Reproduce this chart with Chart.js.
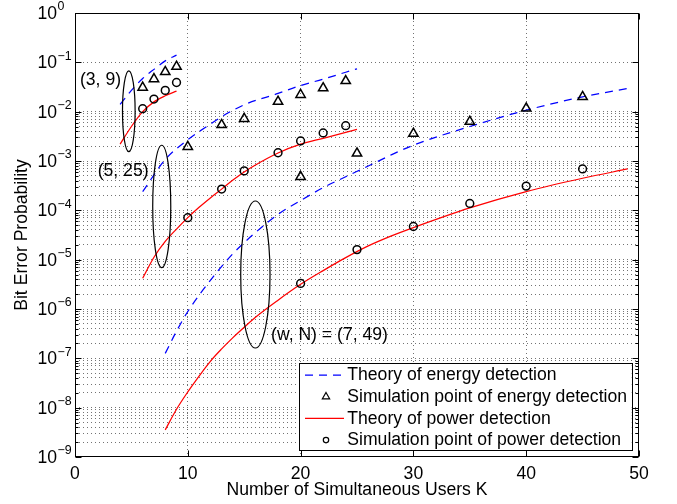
<!DOCTYPE html>
<html><head><meta charset="utf-8">
<script src="https://cdn.jsdelivr.net/npm/chart.js@4.4.0/dist/chart.umd.min.js"></script>
<style>html,body{margin:0;padding:0;background:#fff;}#wrap{width:677px;height:504px;}</style>
</head><body><div id="wrap"><canvas id="c" width="677" height="504"></canvas></div>
<script>
// ---------- axis ticks ----------
const xTicks = [0, 10, 20, 30, 40, 50];
const yDecadeExponents = [0, -1, -2, -3, -4, -5, -6, -7, -8, -9];
const minorGridDecades = [-9, -8, -7, -6, -5, -4, -3];   // minor lines m*10^d, m = 2..9
const minorMultipliers = [2, 3, 4, 5, 6, 7, 8, 9];

// ---------- (w, N) = (3, 9) ----------
const kTheory39 = [4, 5, 6, 7, 8, 9];
const energyTheory39 = [1.4e-2, 2.7e-2, 4.7e-2, 7.2e-2, 1.07e-1, 1.4e-1];
const powerTheory39 = [2.2e-3, 5.0e-3, 1.0e-2, 1.58e-2, 2.1e-2, 2.6e-2];
const kSim39 = [6, 7, 8, 9];
const energySim39 = [3.1e-2, 4.6e-2, 6.4e-2, 8.2e-2];
const powerSim39 = [1.15e-2, 1.8e-2, 2.7e-2, 3.9e-2];

// ---------- (w, N) = (5, 25) ----------
const kEnergyTheory525 = [6, 8, 10, 12, 13, 15, 18, 20, 22, 24, 25];
const energyTheory525 = [2.4e-4, 1.07e-3, 2.7e-3, 5.6e-3, 7.9e-3, 1.38e-2, 2.34e-2, 3.39e-2, 4.57e-2, 6.3e-2, 7.4e-2];
const kPowerTheory525 = [6, 7, 8, 9, 10, 11, 12, 13, 14, 15, 16, 18, 20, 22, 24, 25];
const powerTheory525 = [4.2e-6, 1.12e-5, 2.34e-5, 4.17e-5, 7.1e-5, 1.15e-4, 1.78e-4, 2.69e-4, 4.1e-4, 6.0e-4, 8.3e-4, 1.45e-3, 2.19e-3, 2.88e-3, 3.8e-3, 4.37e-3];
const kSim525 = [10, 13, 15, 18, 20, 22, 24];
const energySim525 = [1.95e-3, 5.4e-3, 7.2e-3, 1.6e-2, 2.2e-2, 3.0e-2, 4.2e-2];
const powerSim525 = [7.1e-5, 2.7e-4, 6.3e-4, 1.47e-3, 2.55e-3, 3.7e-3, 5.2e-3];

// ---------- (w, N) = (7, 49) ----------
const kEnergyTheory749 = [8, 9, 10, 12, 14, 16, 18, 20, 22, 24, 26, 28, 30, 35, 40, 45, 49];
const energyTheory749 = [1.26e-7, 3.55e-7, 8.9e-7, 3.8e-6, 1.32e-5, 3.55e-5, 8.3e-5, 1.58e-4, 2.88e-4, 4.8e-4, 7.9e-4, 1.32e-3, 2.09e-3, 5.0e-3, 1.07e-2, 2.0e-2, 2.95e-2];
const kPowerTheory749 = [8, 9, 10, 11, 12, 13, 14, 15, 16, 18, 20, 22, 24, 26, 28, 30, 35, 40, 45, 49];
const powerTheory749 = [3.55e-9, 9.3e-9, 2.09e-8, 4.37e-8, 8.7e-8, 1.55e-7, 2.63e-7, 4.27e-7, 6.8e-7, 1.51e-6, 3.16e-6, 6.0e-6, 1.1e-5, 1.9e-5, 3.0e-5, 4.47e-5, 1.12e-4, 2.4e-4, 4.47e-4, 6.9e-4];
const kSim749 = [20, 25, 30, 35, 40, 45];
const energySim749 = [4.8e-4, 1.43e-3, 3.6e-3, 6.3e-3, 1.17e-2, 2.0e-2];
const powerSim749 = [3.3e-6, 1.6e-5, 4.7e-5, 1.38e-4, 3.1e-4, 6.9e-4];

// ---------- annotations (data coordinates) ----------
const annotationLabels = [
  { text: '(3, 9)', k: 0.44, p: 4.28e-2 },
  { text: '(5, 25)', k: 2.01, p: 6.35e-4 },
  { text: '(w, N) = (7, 49)', k: 17.38, p: 2.97e-7 }
];
const groupEllipses = [
  { k: 4.77, kHalf: 0.56, p: 1.02e-2, decadesHalf: 0.82 },
  { k: 7.69, kHalf: 0.80, p: 1.2e-4, decadesHalf: 1.24 },
  { k: 15.99, kHalf: 1.30, p: 5.0e-6, decadesHalf: 1.49 }
];

const FONT = '"Liberation Sans", Arial, Helvetica, sans-serif';
const FS = 17.6;
const GRID = 'rgba(0,0,0,0.55)';
const BLUE = '#0000ff', RED = '#ff0000';
const pts = (ks, vs) => ks.map((k, i) => ({ x: k, y: vs[i] }));

const LBL_ET = 'Theory of energy detection';
const LBL_ES = 'Simulation point of energy detection';
const LBL_PT = 'Theory of power detection';
const LBL_PS = 'Simulation point of power detection';

function energyTheory(ks, vs, leg) {
  return { label: LBL_ET, legend: leg, data: pts(ks, vs), showLine: true, borderColor: BLUE, borderWidth: 1.25,
    borderDash: [8, 6], pointRadius: 0, cubicInterpolationMode: 'monotone', fill: false, order: 2 };
}
function powerTheory(ks, vs, leg) {
  return { label: LBL_PT, legend: leg, data: pts(ks, vs), showLine: true, borderColor: RED, borderWidth: 1.25,
    pointRadius: 0, cubicInterpolationMode: 'monotone', fill: false, order: 2 };
}
function energySim(ks, vs, leg) {
  return { label: LBL_ES, legend: leg, data: pts(ks, vs), showLine: false, pointStyle: 'triangle', pointRadius: 5.4,
    borderColor: '#000', backgroundColor: 'rgba(0,0,0,0)', pointBorderWidth: 1.5, borderWidth: 1.5, order: 1 };
}
function powerSim(ks, vs, leg) {
  return { label: LBL_PS, legend: leg, data: pts(ks, vs), showLine: false, pointStyle: 'circle', pointRadius: 3.9,
    borderColor: '#000', backgroundColor: 'rgba(0,0,0,0)', pointBorderWidth: 1.5, borderWidth: 1.5, order: 1 };
}

const datasets = [
  energyTheory(kTheory39, energyTheory39, 0),
  energySim(kSim39, energySim39, 1),
  powerTheory(kTheory39, powerTheory39, 2),
  powerSim(kSim39, powerSim39, 3),
  energyTheory(kEnergyTheory525, energyTheory525),
  energySim(kSim525, energySim525),
  powerTheory(kPowerTheory525, powerTheory525),
  powerSim(kSim525, powerSim525),
  energyTheory(kEnergyTheory749, energyTheory749),
  energySim(kSim749, energySim749),
  powerTheory(kPowerTheory749, powerTheory749),
  powerSim(kSim749, powerSim749)
];

const yMajorValues = yDecadeExponents.map(e => Math.pow(10, e));
const yMinorValues = [];
minorGridDecades.forEach(d => minorMultipliers.forEach(m => yMinorValues.push(m * Math.pow(10, d))));

const decor = {
  id: 'decor',
  afterDatasetsDraw(chart) {
    const { ctx, chartArea: a, scales: { x, y } } = chart;
    ctx.save();
    // ellipses
    ctx.strokeStyle = '#000'; ctx.lineWidth = 1.2; ctx.setLineDash([]);
    groupEllipses.forEach(e => {
      const cx = x.getPixelForValue(e.k);
      const rx = x.getPixelForValue(e.k + e.kHalf) - cx;
      const yTop = y.getPixelForValue(e.p * Math.pow(10, e.decadesHalf));
      const yBot = y.getPixelForValue(e.p / Math.pow(10, e.decadesHalf));
      ctx.beginPath();
      ctx.ellipse(cx, (yTop + yBot) / 2, rx, (yBot - yTop) / 2, 0, 0, Math.PI * 2);
      ctx.stroke();
    });
    // annotation labels
    ctx.fillStyle = '#000'; ctx.font = FS + 'px ' + FONT; ctx.textAlign = 'left'; ctx.textBaseline = 'middle';
    annotationLabels.forEach(l => ctx.fillText(l.text, x.getPixelForValue(l.k), y.getPixelForValue(l.p)));

    // axes box
    ctx.lineWidth = 1; ctx.strokeStyle = '#000';
    const L = Math.round(a.left) + 0.5, R = Math.round(a.right) - 0.5, T = Math.round(a.top) + 0.5, B = Math.round(a.bottom) - 0.5;
    ctx.strokeRect(L, T, R - L, B - T);
    // ticks
    ctx.beginPath();
    yMajorValues.forEach(v => {
      const py = Math.round(y.getPixelForValue(v)) + 0.5;
      ctx.moveTo(L, py); ctx.lineTo(L + 6, py);
      ctx.moveTo(R, py); ctx.lineTo(R - 6, py);
    });
    yMinorValues.forEach(v => {
      const py = Math.round(y.getPixelForValue(v)) + 0.5;
      ctx.moveTo(L, py); ctx.lineTo(L + 3, py);
      ctx.moveTo(R, py); ctx.lineTo(R - 3, py);
    });
    xTicks.forEach(v => {
      const px = Math.round(x.getPixelForValue(v)) + 0.5;
      ctx.moveTo(px, B); ctx.lineTo(px, B - 6);
      ctx.moveTo(px, T); ctx.lineTo(px, T + 6);
    });
    ctx.stroke();

    // y tick labels 10^e
    yDecadeExponents.forEach(e => {
      const py = y.getPixelForValue(Math.pow(10, e));
      ctx.font = FS + 'px ' + FONT; ctx.textAlign = 'right'; ctx.textBaseline = 'middle';
      ctx.fillText('10', a.left - 18, py + 1);
      ctx.font = '12.4px ' + FONT; ctx.textAlign = 'left';
      ctx.fillText(e === 0 ? '0' : '\u2212' + Math.abs(e), a.left - 17.5, py - 6);
    });

    // legend
    const legendItems = chart.data.datasets.filter(d => d.legend !== undefined).sort((p, q) => p.legend - q.legend);
    const bw = 332.7, bh = 87.3;
    const bx = a.right - 7.3 - bw, by = a.bottom - 7 - bh;
    ctx.fillStyle = '#fff';
    ctx.fillRect(bx, by, bw, bh);
    ctx.strokeStyle = '#000'; ctx.lineWidth = 1;
    ctx.strokeRect(Math.round(bx) + 0.5, Math.round(by) + 0.5, Math.round(bw), Math.round(bh));
    legendItems.forEach((d, i) => {
      const ry = by + 12.3 + i * 21.7;
      if (d.showLine) {
        ctx.save();
        ctx.strokeStyle = d.borderColor; ctx.lineWidth = d.borderWidth;
        ctx.setLineDash(d.borderDash || []);
        ctx.beginPath(); ctx.moveTo(bx + 6, ry); ctx.lineTo(bx + 45, ry); ctx.stroke();
        ctx.restore();
      } else {
        ctx.save();
        ctx.strokeStyle = d.borderColor; ctx.fillStyle = d.backgroundColor; ctx.lineWidth = 1.2;
        Chart.helpers.drawPoint(ctx, { pointStyle: d.pointStyle, radius: d.pointRadius - 1.2, rotation: 0, borderWidth: 1.2 }, bx + 27, ry);
        ctx.restore();
      }
      ctx.fillStyle = '#000'; ctx.font = FS + 'px ' + FONT; ctx.textAlign = 'left'; ctx.textBaseline = 'middle';
      ctx.fillText(d.label, bx + 48.3, ry + 0.5);
    });
    ctx.restore();
  }
};

new Chart(document.getElementById('c'), {
  type: 'scatter',
  data: { datasets },
  plugins: [decor],
  options: {
    responsive: false, animation: false, devicePixelRatio: 1,
    layout: { padding: { left: 0, right: 38, top: 13, bottom: 0 } },
    plugins: { legend: { display: false }, tooltip: { enabled: false } },
    scales: {
      x: {
        type: 'linear', min: 0, max: 50,
        afterBuildTicks: s => { s.ticks = xTicks.map(v => ({ value: v })); },
        afterFit: s => { s.height = 47; },
        grid: { color: c => (c.tick && c.tick.value > 0 && c.tick.value < 50) ? GRID : 'rgba(0,0,0,0)', lineWidth: 1, drawTicks: false },
        border: { display: false, dash: [1, 3] },
        ticks: { color: '#000', font: { family: FONT, size: FS }, padding: 7, maxRotation: 0 },
        title: { display: true, text: 'Number of Simultaneous Users K', color: '#000', font: { family: FONT, size: FS }, padding: { top: 0, bottom: 3.4 } }
      },
      y: {
        type: 'logarithmic', min: 1e-9, max: 1,
        afterBuildTicks: s => {
          s.ticks = yMajorValues.map(v => ({ value: v, major: true })).concat(yMinorValues.map(v => ({ value: v, major: false })));
        },
        afterFit: s => { s.width = 75; },
        grid: { color: c => (c.tick && c.tick.value < 0.99 && c.tick.value > 1.01e-9) ? GRID : 'rgba(0,0,0,0)', lineWidth: 1, drawTicks: false },
        border: { display: false, dash: [1, 3] },
        ticks: { display: false },
        title: { display: true, text: 'Bit Error Probability', color: '#000', font: { family: FONT, size: FS }, padding: { top: 11.4, bottom: 0 } }
      }
    }
  }
});
</script>
</body></html>
